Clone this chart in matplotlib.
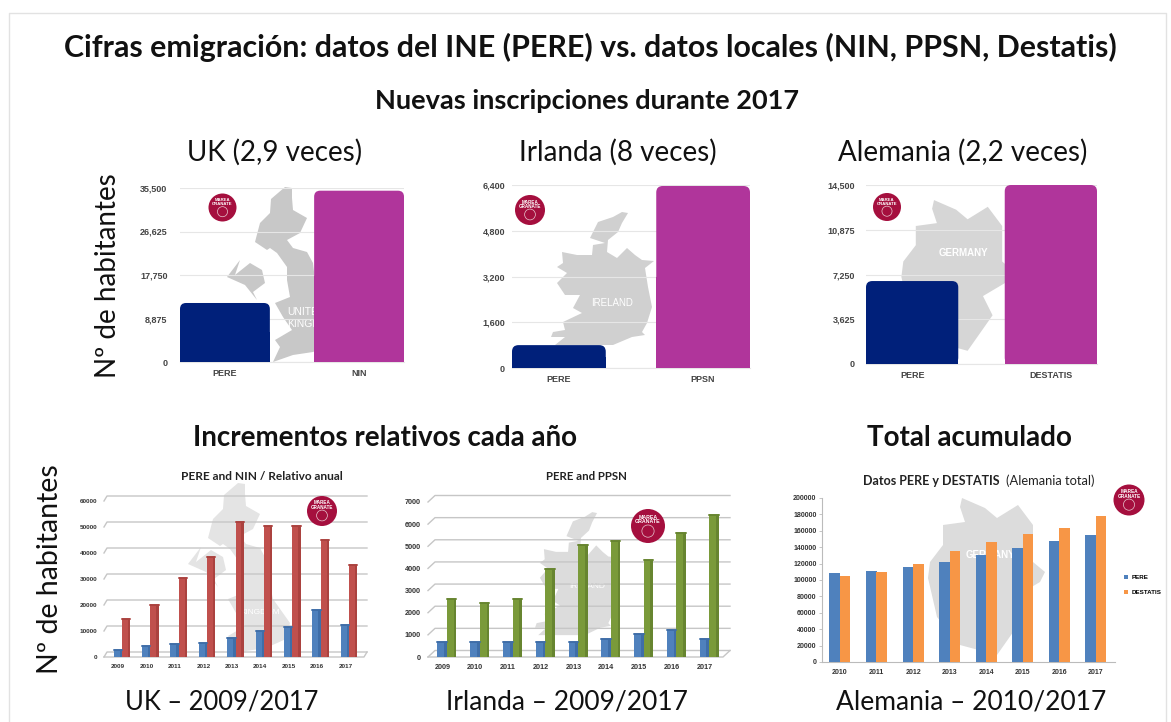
import matplotlib
matplotlib.use('Agg')
import matplotlib.pyplot as plt
from matplotlib.patches import Polygon, Circle, FancyBboxPatch

W, H = 1171, 722
SANS = ['Lato', 'DejaVu Sans']
ARIAL = ['Liberation Sans', 'DejaVu Sans']

# ---- data ----
uk_top_labels = ['PERE', 'NIN']
uk_top_values = [12040, 34950]
uk_top_ticks = [0, 8875, 17750, 26625, 35500]

ie_top_labels = ['PERE', 'PPSN']
ie_top_values = [800, 6365]
ie_top_ticks = [0, 1600, 3200, 4800, 6400]

de_top_labels = ['PERE', 'DESTATIS']
de_top_values = [6720, 14500]
de_top_ticks = [0, 3625, 7250, 10875, 14500]

uk_years = [2009, 2010, 2011, 2012, 2013, 2014, 2015, 2016, 2017]
uk_pere = [2700, 4100, 4900, 5500, 7300, 10000, 11400, 18000, 12400]
uk_nin = [14500, 20000, 30300, 38400, 52000, 50500, 50200, 45000, 35500]
uk_ticks = [0, 10000, 20000, 30000, 40000, 50000, 60000]

ie_years = [2009, 2010, 2011, 2012, 2013, 2014, 2015, 2016, 2017]
ie_pere = [700, 690, 670, 670, 700, 830, 1030, 1200, 830]
ie_ppsn = [2620, 2430, 2630, 3980, 5050, 5250, 4400, 5600, 6400]
ie_ticks = [0, 1000, 2000, 3000, 4000, 5000, 6000, 7000]

de_years = [2010, 2011, 2012, 2013, 2014, 2015, 2016, 2017]
de_pere = [108000, 111500, 115500, 121500, 130000, 139000, 147000, 155000]
de_destatis = [104500, 109500, 120000, 135000, 146000, 155500, 163000, 177500]
de_ticks = list(range(0, 200001, 20000))

# rough country outlines behind the charts, figure pixels
gb_shape = [(271, 199), (285, 187), (292, 188), (292, 198), (293, 210), (307, 218), (300, 233), (287, 240),
            (293, 248), (307, 252), (313, 263), (315, 280), (320, 303), (337, 327), (333, 343), (313, 352),
            (293, 355), (273, 362), (280, 347), (275, 340), (292, 330), (283, 317), (275, 303), (290, 297),
            (287, 280), (287, 267), (277, 253), (270, 248), (267, 250), (255, 242), (260, 223), (270, 213)]
ni_shape = [(235, 275), (250, 263), (262, 270), (265, 283), (253, 292), (257, 300), (245, 285), (227, 277), (240, 260)]
ie_shape = [(622, 212), (628, 213), (622, 223), (618, 232), (608, 240), (607, 252), (617, 258), (627, 248),
            (635, 255), (642, 260), (654, 261), (645, 268), (648, 287), (652, 307), (647, 323), (642, 332),
            (645, 335), (632, 337), (613, 345), (555, 345), (565, 337), (551, 337), (553, 332), (565, 330),
            (563, 322), (582, 313), (573, 308), (580, 295), (565, 295), (557, 283), (567, 273), (557, 267),
            (563, 263), (562, 252), (577, 255), (592, 255), (593, 245), (605, 243), (590, 238), (598, 222), (613, 217)]
de_shape = [(962, 498), (985, 508), (997, 518), (1018, 505), (1033, 525), (1033, 562), (1045, 572),
            (1040, 582), (1013, 598), (1023, 618), (997, 655), (960, 645), (937, 617), (928, 578),
            (930, 562), (943, 545), (943, 525), (965, 522), (960, 507)]

fig = plt.figure(figsize=(W / 100, H / 100), dpi=100, facecolor='white')


def axes_px(x0, x1, y_top, y_bottom, zorder=2):
    ax = fig.add_axes([x0 / W, 1 - y_bottom / H, (x1 - x0) / W, (y_bottom - y_top) / H], zorder=zorder)
    ax.patch.set_alpha(0)
    return ax


def shape(ax, pts, color, sx=1.0, sy=1.0, dx=0, dy=0):
    ax.add_patch(Polygon([(x * sx + dx, y * sy + dy) for x, y in pts], closed=True, fc=color, ec='none'))


def logo(ax, x, y, r):
    ax.add_patch(Circle((x, y), r, fc='#a50f3e', ec='none'))
    ax.add_patch(Circle((x, y + r * 0.3), r * 0.36, fc='none', ec='#e8c8d0', lw=0.5))
    ax.text(x, y - r * 0.38, 'MAREA\nGRANATE', color='white', ha='center', va='center',
            fontsize=r * 0.22, fontweight='bold', family=ARIAL, linespacing=0.9)


# background layer
bg = fig.add_axes([0, 0, 1, 1], zorder=0)
bg.set_xlim(0, W)
bg.set_ylim(H, 0)
bg.axis('off')
bg.plot([9, 9, 1166, 1166], [722, 13, 13, 722], color='#e2e2e2', lw=1)

shape(bg, gb_shape, '#c8c8c8')
shape(bg, ni_shape, '#c8c8c8')
shape(bg, gb_shape, '#e4e4e4', dx=-47, dy=296)
shape(bg, ni_shape, '#e4e4e4', dx=-39, dy=287)
shape(bg, ie_shape, '#d0d0d0')
shape(bg, ie_shape, '#dcdcdc', sx=0.805, sy=0.925, dx=91.5, dy=316)
shape(bg, de_shape, '#d6d6d6', sx=0.96, sy=0.96, dx=10.5, dy=-278)
shape(bg, de_shape, '#dcdcdc')

bg.text(963, 253, 'GERMANY', color='white', fontsize=7, ha='center', va='center', family=ARIAL, fontweight='bold')
bg.text(612, 303, 'IRELAND', color='white', fontsize=7, ha='center', va='center', family=ARIAL)
bg.text(287, 312, 'UNITED', color='white', fontsize=7.5, ha='left', va='center', family=ARIAL)
bg.text(287, 324, 'KINGDOM', color='white', fontsize=7.5, ha='left', va='center', family=ARIAL)
bg.text(260, 612, 'KINGDOM', color='white', fontsize=6, ha='center', va='center', family=ARIAL)
bg.text(587, 587, 'IRELAND', color='white', fontsize=6, ha='center', va='center', family=ARIAL)
bg.text(990, 555, 'GERMANY', color='white', fontsize=7, ha='center', va='center', family=ARIAL, fontweight='bold')


def top_chart(x0, x1, y_top, y_bottom, labels, values, ticks, bar_w, pad):
    ax = axes_px(x0, x1, y_top, y_bottom)
    colors = ['#00207a', '#b0359b']
    ax.set_xlim(-bar_w / 2, 1 + bar_w / 2)
    ax.set_ylim(0, ticks[-1])
    ax.set_yticks(ticks)
    ax.set_yticklabels([f'{t:,}' for t in ticks], fontsize=6.5, fontweight='bold', family=ARIAL, color='#444444')
    ax.set_xticks([0, 1])
    ax.set_xticklabels(labels, fontsize=6.5, fontweight='bold', family=ARIAL, color='#444444')
    ax.tick_params(length=0, pad=pad, axis='y')
    ax.tick_params(length=0, pad=5, axis='x')
    ax.grid(axis='y', color='#e6e6e6', lw=0.8)
    ax.set_axisbelow(True)
    for s in ax.spines.values():
        s.set_visible(False)
    ax.spines['bottom'].set_visible(True)
    ax.spines['bottom'].set_color('#e6e6e6')
    aspect = (ticks[-1] / (y_bottom - y_top)) / ((1 + bar_w) / (x1 - x0))
    for i, v in enumerate(values):
        ax.bar(i, v * 0.5, width=bar_w, color=colors[i], zorder=3)
        ax.add_patch(FancyBboxPatch((i - bar_w / 2, 0), bar_w, v, mutation_aspect=aspect,
                                    boxstyle='round,pad=0,rounding_size=0.045', fc=colors[i], ec='none', zorder=3))
    return ax


top_chart(180, 404, 188, 362, uk_top_labels, uk_top_values, uk_top_ticks, 0.67, 9)
top_chart(512, 750, 185, 368, ie_top_labels, ie_top_values, ie_top_ticks, 0.65, 5)
top_chart(866, 1097, 185, 364, de_top_labels, de_top_values, de_top_ticks, 0.665, 8)


def chart_3d(x0, x1, y_top, y_bottom, years, a, b, ticks, color_a, color_b, side_a, side_b,
             bar_w, font, left, right, lab_off, dx_px, dy_px):
    ax = axes_px(x0, x1, y_top, y_bottom)
    ax.set_ylim(0, ticks[-1])
    ax.set_xlim(left, right)
    dx = dx_px * (right - left) / (x1 - x0)
    dy = dy_px * ticks[-1] / (y_bottom - y_top)
    for t in ticks:
        ax.plot([left, left + dx, right], [t, t + dy, t + dy], color='#c6c6c6', lw=1.0, clip_on=False, zorder=1)
    ax.plot([left, right - dx, right], [0, 0, dy], color='#c6c6c6', lw=1.0, clip_on=False, zorder=1)
    for i in range(len(years)):
        for v, off, c, s in [(a[i], -bar_w / 2, color_a, side_a), (b[i], bar_w / 2, color_b, side_b)]:
            ax.bar(i + off, v, width=bar_w, color=c, zorder=3, align='center')
            ax.bar(i + off + bar_w * 0.36, v, width=bar_w * 0.28, color=s, zorder=4)
            ax.plot([i + off - bar_w / 2, i + off + bar_w / 2], [v, v], color=s, lw=1.4, zorder=5, solid_capstyle='round')
    ax.set_yticks(ticks)
    ax.set_yticklabels([str(t) for t in ticks], fontsize=font, family=ARIAL, color='#333333', fontweight='bold')
    ax.set_xticks([i + lab_off for i in range(len(years))])
    ax.set_xticklabels([str(y) for y in years], fontsize=font, family=ARIAL, color='#333333', fontweight='bold')
    ax.tick_params(length=0, pad=5)
    for s in ax.spines.values():
        s.set_visible(False)
    return ax


chart_3d(104, 367, 501, 657, uk_years, uk_pere, uk_nin, uk_ticks, '#4f81bd', '#c0504d', '#3f6ea8', '#ab423f',
         0.29, 4.6, -0.63, 8.63, -0.13, 3, 5)
chart_3d(428, 730, 502, 657, ie_years, ie_pere, ie_ppsn, ie_ticks, '#4f81bd', '#7a9a3a', '#3f6ea8', '#678530',
         0.29, 5.2, -0.58, 8.64, -0.14, 7, 6.5)

# Alemania total, flat chart
ax = axes_px(822, 1115, 498, 662)
n = range(len(de_years))
ax.bar([i - 0.143 for i in n], de_pere, width=0.287, color='#4f81bd', label='PERE', zorder=3)
ax.bar([i + 0.143 for i in n], de_destatis, width=0.287, color='#f79646', label='DESTATIS', zorder=3)
ax.set_xlim(-0.49, len(de_years) - 1 + 0.52)
ax.set_ylim(0, de_ticks[-1])
ax.set_yticks(de_ticks)
ax.set_yticklabels([str(t) for t in de_ticks], fontsize=5, family=ARIAL, fontweight='bold', color='#333333')
ax.set_xticks(list(n))
ax.set_xticklabels([str(y) for y in de_years], fontsize=5, family=ARIAL, fontweight='bold', color='#333333')
ax.tick_params(axis='y', length=2, width=0.6, pad=2, color='#bbbbbb')
ax.tick_params(axis='x', length=0, pad=5)
ax.spines['top'].set_visible(False)
ax.spines['right'].set_visible(False)
ax.spines['left'].set_color('#bbbbbb')
ax.spines['bottom'].set_color('#bbbbbb')
ax.legend(loc='center left', bbox_to_anchor=(1.015, 0.47), frameon=False, handlelength=0.7, handleheight=0.7,
          prop={'family': ARIAL, 'size': 4.5, 'weight': 'bold'}, labelspacing=1.5, handletextpad=0.6, borderaxespad=0.3)

# text and logos on top
fg = fig.add_axes([0, 0, 1, 1], zorder=5)
fg.set_xlim(0, W)
fg.set_ylim(H, 0)
fg.axis('off')
fg.patch.set_alpha(0)


def label(x, y, s, size, weight='normal', rotation=0, color='#111111', fam=SANS):
    fg.text(x, y, s, fontsize=size, fontweight=weight, rotation=rotation, ha='center', va='center', color=color, family=fam)


label(590, 47, 'Cifras emigración: datos del INE (PERE) vs. datos locales (NIN, PPSN, Destatis)', 21.9, 'bold')
label(587, 101, 'Nuevas inscripciones durante 2017', 19.5, 'bold')
label(275, 152, 'UK (2,9 veces)', 20)
label(618, 152, 'Irlanda (8 veces)', 20)
label(963, 152, 'Alemania (2,2 veces)', 20)
label(108, 276, 'Nº de habitantes', 20, rotation=90)
label(385, 438, 'Incrementos relativos cada año', 20, 'bold')
label(969, 438, 'Total acumulado', 20, 'bold')
label(50, 569, 'Nº de habitantes', 20.5, rotation=90)
label(222, 702, 'UK – 2009/2017', 18.4)
label(567, 702, 'Irlanda – 2009/2017', 19)
label(971, 702, 'Alemania – 2010/2017', 19)
label(262, 477, 'PERE and NIN / Relativo anual', 8.6, 'bold', color='#222222')
label(586, 477, 'PERE and PPSN', 8.3, 'bold', color='#222222')
label(931, 481, 'Datos PERE y DESTATIS', 9, 'bold', color='#222222')
label(1050, 481, '(Alemania total)', 9.3, color='#222222')

logo(fg, 222.5, 207.5, 14)
logo(fg, 530, 210, 15)
logo(fg, 887, 207, 14)
logo(fg, 322, 511, 15)
logo(fg, 648, 526, 17)
logo(fg, 1129, 500, 15.5)

fig.savefig('out.png', dpi=100)
